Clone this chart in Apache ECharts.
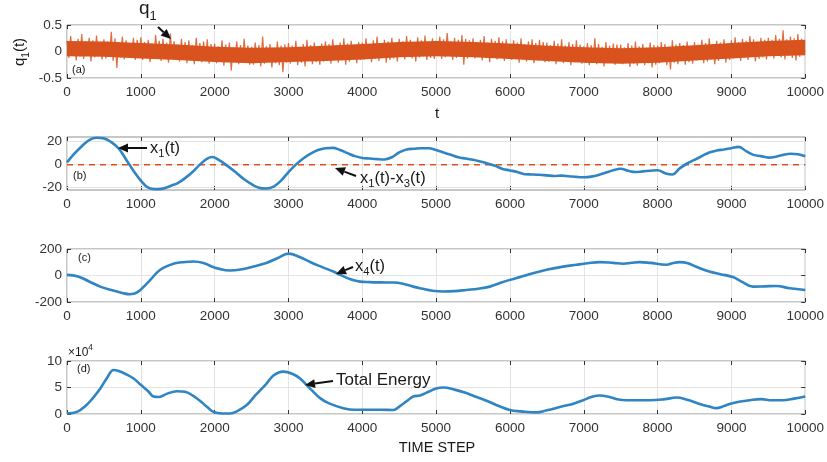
<!DOCTYPE html>
<html><head><meta charset="utf-8">
<script src="https://cdn.jsdelivr.net/npm/echarts@6/dist/echarts.min.js"></script>
<style>html,body{margin:0;padding:0;background:#fff}#c{width:827px;height:462px}</style>
</head><body><div id="c"></div>
<script>
const FONT = '"Liberation Sans", Arial, Helvetica, sans-serif';

// ---------- DATA ----------
const xTickLabels = [0,1000,2000,3000,4000,5000,6000,7000,8000,9000,10000];

// (a) q1(t): dense core band (every 500 steps)
const tCore = [0,500,1000,1500,2000,2500,3000,3500,4000,4500,5000,5500,6000,6500,7000,7500,8000,8500,9000,9500,10000];
const coreHi = [.20,.19,.16,.13,.09,.07,.08,.11,.14,.18,.20,.18,.15,.11,.08,.06,.08,.12,.16,.20,.22];
const coreLo = [-.09,-.10,-.13,-.16,-.20,-.22,-.20,-.18,-.15,-.11,-.09,-.11,-.14,-.18,-.21,-.23,-.21,-.17,-.13,-.09,-.07];
// (a) q1(t): local peaks (at t = i*50) and troughs (at t = i*50+25)
const qHigh = [
 .20,.29,.17,.24,.33,.19,.26,.21,.30,.18,
 .23,.19,.37,.25,.18,.28,.21,.16,.26,.22,
 .27,.18,.22,.15,.31,.20,.24,.17,.34,.19,
 .13,.24,.18,.21,.12,.26,.16,.19,.23,.14,
 .15,.10,.21,.13,.17,.08,.19,.12,.24,.11,
 .09,.17,.12,.28,.10,.14,.07,.19,.11,.13,
 .16,.11,.20,.09,.14,.22,.12,.17,.10,.15,
 .19,.14,.23,.12,.17,.25,.15,.20,.13,.18,
 .17,.25,.14,.21,.28,.16,.22,.19,.26,.15,
 .24,.19,.29,.22,.17,.27,.21,.30,.18,.25,
 .20,.28,.23,.35,.19,.26,.22,.31,.24,.21,
 .25,.18,.22,.29,.17,.24,.20,.27,.19,.23,
 .14,.21,.17,.25,.13,.19,.23,.16,.22,.18,
 .17,.12,.20,.15,.23,.11,.18,.14,.21,.13,
 .10,.16,.12,.25,.14,.09,.18,.11,.15,.13,
 .13,.08,.16,.11,.19,.10,.14,.07,.17,.12,
 .11,.18,.14,.09,.21,.13,.16,.12,.19,.10,
 .18,.13,.22,.16,.25,.14,.20,.17,.23,.15,
 .21,.27,.18,.24,.20,.29,.23,.19,.26,.22,
 .26,.22,.31,.24,.40,.23,.28,.25,.33,.24];
const qLow = [
 -.12,-.08,-.17,-.10,-.14,-.06,-.19,-.11,-.09,-.15,
 -.13,-.09,-.18,-.31,-.11,-.15,-.08,-.12,-.16,-.10,
 -.16,-.11,-.20,-.13,-.09,-.18,-.14,-.21,-.12,-.15,
 -.19,-.14,-.22,-.17,-.24,-.13,-.20,-.16,-.23,-.18,
 -.22,-.18,-.27,-.20,-.36,-.17,-.24,-.21,-.19,-.25,
 -.25,-.20,-.28,-.23,-.19,-.30,-.22,-.26,-.39,-.21,
 -.23,-.18,-.26,-.21,-.28,-.17,-.24,-.20,-.25,-.19,
 -.18,-.23,-.15,-.21,-.17,-.25,-.19,-.14,-.22,-.16,
 -.15,-.12,-.20,-.14,-.18,-.11,-.21,-.16,-.13,-.19,
 -.10,-.15,-.08,-.13,-.19,-.11,-.09,-.16,-.12,-.14,
 -.09,-.14,-.11,-.07,-.16,-.12,-.10,-.25,-.13,-.08,
 -.13,-.10,-.17,-.12,-.20,-.09,-.15,-.11,-.18,-.14,
 -.16,-.13,-.21,-.15,-.19,-.12,-.22,-.17,-.14,-.20,
 -.19,-.16,-.24,-.18,-.22,-.15,-.26,-.20,-.17,-.23,
 -.21,-.26,-.19,-.24,-.17,-.28,-.22,-.20,-.25,-.18,
 -.24,-.21,-.29,-.23,-.27,-.20,-.26,-.22,-.30,-.25,
 -.22,-.19,-.26,-.34,-.21,-.24,-.18,-.25,-.20,-.23,
 -.17,-.14,-.22,-.19,-.15,-.24,-.18,-.13,-.21,-.16,
 -.13,-.10,-.18,-.12,-.16,-.09,-.19,-.14,-.11,-.15,
 -.09,-.13,-.06,-.11,-.15,-.08,-.12,-.17,-.10,-.07];

// (b) x1(t)
const tB = [0,100,200,300,400,500,600,700,800,900,1000,1100,1200,1300,1400,1500,1600,1700,1800,1900,1970,2050,2150,2300,2400,2500,2600,2700,2800,2900,3000,3100,3200,3300,3400,3500,3600,3700,3800,3900,4000,4100,4200,4300,4400,4500,4600,4700,4800,4900,5000,5100,5200,5300,5400,5500,5600,5700,5800,5900,6000,6100,6200,6300,6400,6500,6600,6700,6800,6900,7000,7100,7200,7300,7400,7500,7600,7700,7800,7900,8000,8100,8200,8300,8400,8500,8600,8700,8800,8900,9000,9100,9200,9300,9400,9500,9600,9700,9800,9900,10000];
const x1Vals = [2,9.5,16,21.3,23.3,22.8,19.5,14,4.5,-5.3,-13.8,-20,-21.3,-20.8,-18.5,-16,-11.7,-6.4,0,5.3,6.7,4.3,0,-7.4,-12.7,-17,-20,-20.7,-19,-13.8,-6.4,0,5.3,9.5,12.7,14.3,14.6,12.7,10,7.4,5.8,5.3,4.8,4.5,6.4,10.6,13.2,13.8,14.3,14.3,12.7,10.6,8.5,6.4,5.3,4.2,2.7,1,-1,-3.7,-5,-6.4,-8.3,-8.5,-8.8,-9.3,-9.8,-9.5,-10,-10.6,-10.9,-10.4,-9,-6.9,-4.8,-3.5,-5.3,-6.4,-5.8,-5.3,-4.9,-7.4,-8.5,-3.2,1,4.2,7.4,10.6,12.2,13.2,14.3,15.4,11.7,8.5,7.4,6.1,6.9,8.5,9.5,9,7.3];
// (b) x1(t)-x3(t)
const tDiff = [0,1000,2000,3000,4000,5000,6000,7000,8000,9000,10000];
const diffVals = [0,-0.2,0,-0.1,0,0,-0.1,0,0,0,0];

// (c) x4(t)
const tC = [0,150,300,450,600,750,850,950,1100,1263,1450,1600,1714,1850,1950,2050,2200,2350,2525,2700,2850,3000,3150,3300,3450,3608,3700,3850,3969,4100,4250,4420,4550,4690,4800,4950,5097,5250,5413,5570,5728,5850,5999,6150,6300,6495,6700,6901,7050,7217,7400,7532,7650,7758,7900,8119,8200,8299,8400,8550,8700,8850,9021,9150,9292,9450,9608,9790,10000];
const x4Vals = [5,-7,-45,-84,-110,-132,-141,-127,-50,43,90,102,106,95,70,52,38,45,68,95,130,165,140,100,65,30,5,-30,-46,-50,-52,-53,-62,-84,-98,-115,-121,-118,-109,-100,-84,-60,-33,-10,15,43,65,81,92,101,95,89,96,101,95,81,92,101,94,60,30,10,-12,-50,-84,-82,-79,-96,-109];

// (d) Total Energy
const tD = [0,135,250,350,451,550,631,700,800,902,1000,1100,1173,1250,1350,1488,1600,1700,1800,1900,1984,2100,2210,2300,2435,2550,2700,2800,2931,3050,3157,3300,3428,3550,3743,3900,4100,4250,4420,4510,4600,4690,4781,4900,5000,5097,5250,5400,5550,5700,5850,5999,6150,6360,6500,6700,6850,6991,7100,7217,7350,7450,7578,7750,7900,8100,8254,8400,8550,8700,8795,8900,9000,9100,9246,9400,9550,9697,9850,10000];
const energyVals = [1000,4000,15000,30000,48000,70000,83000,81000,75000,67000,55000,43000,33000,32000,38000,43000,42000,35000,25000,13000,4000,1000,1000,5000,17000,35000,57000,73000,80000,76000,67000,47000,30000,20000,11000,8000,8000,8000,7500,15000,24000,33000,35000,42000,48000,50000,46000,40000,32000,24000,15000,7500,5000,3000,7000,14000,19000,26000,32000,35000,32000,28000,26000,26000,26000,28000,31000,27000,20000,14000,11000,15000,20000,23000,26000,28000,26000,26000,29000,33000];

// ---------- BUILD ----------
const tops = [25, 137, 249, 361];
const H = 53;
const yCfg = [
  {min:-0.5, max:0.5, interval:0.5},
  {min:-22, max:24, custom:[-20,0,20]},
  {min:-200, max:200, interval:200},
  {min:0, max:100000, interval:50000, fmt: v => String(v/10000)}
];
const grids = [], xAxes = [], yAxes = [];
tops.forEach((top, i) => {
  grids.push({left:67, right:21, top:top, height:H, show:true, borderColor:'#8f8f8f', borderWidth:1, backgroundColor:'#fff'});
  const common = {gridIndex:i, type:'value', min:xTickLabels[0], max:xTickLabels[xTickLabels.length-1], interval:1000};
  xAxes.push(Object.assign({}, common, {
    position:'bottom',
    axisLine:{show:false, onZero:false},
    axisTick:{inside:true, length:4, lineStyle:{color:'#333'}},
    axisLabel:{fontSize:13.5, fontFamily:FONT, color:'#333', margin:7, formatter: v => String(v)},
    splitLine:{show:true, lineStyle:{color:'#e3e3e3', width:1}}
  }));
  xAxes.push(Object.assign({}, common, {
    position:'top',
    axisLine:{show:false, onZero:false},
    axisTick:{inside:true, length:4, lineStyle:{color:'#333'}},
    axisLabel:{show:false}, splitLine:{show:false}
  }));
  const c = yCfg[i];
  const yl = {gridIndex:i, type:'value', min:c.min, max:c.max, position:'left',
    axisLine:{show:false, onZero:false},
    axisTick:{inside:true, length:4, lineStyle:{color:'#333'}},
    axisLabel:{fontSize:13.5, fontFamily:FONT, color:'#333', margin:5},
    splitLine:{show:true, lineStyle:{color:'#e3e3e3', width:1}}};
  const yr = {gridIndex:i, type:'value', min:c.min, max:c.max, position:'right',
    axisLine:{show:false, onZero:false},
    axisTick:{inside:true, length:4, lineStyle:{color:'#333'}},
    axisLabel:{show:false}, splitLine:{show:false}};
  if (c.interval) { yl.interval = c.interval; yr.interval = c.interval; }
  if (c.custom) {
    yl.axisLabel.customValues = c.custom; yl.axisTick.customValues = c.custom;
    yr.axisTick.customValues = c.custom;
    yl.splitLine.show = false;
  }
  if (c.fmt) yl.axisLabel.formatter = c.fmt;
  yAxes.push(yl, yr);
});

const qData = [];
for (let i = 0; i < qHigh.length; i++) {
  qData.push([i*50, qHigh[i]]);
  qData.push([i*50+25, qLow[i]]);
}
const zip = (t, v) => t.map((x, k) => [x, v[k]]);
const BLUE = '#2f84c4';
const ORANGE = '#d9531e';

const series = [
  // core band of q1, drawn as polygon between coreHi and coreLo via the axes' scales
  {type:'custom', xAxisIndex:0, yAxisIndex:0, data:tCore.map((t,k)=>[t, coreHi[k], coreLo[k]]),
   encode:{x:0, y:[1,2]}, animation:false, z:2, silent:true,
   renderItem:(params, api) => {
     if (params.dataIndex !== 0) return null;
     const pts = [];
     for (let k = 0; k < tCore.length; k++) pts.push(api.coord([tCore[k], coreHi[k]]));
     for (let k = tCore.length - 1; k >= 0; k--) pts.push(api.coord([tCore[k], coreLo[k]]));
     return {type:'polygon', shape:{points:pts}, style:{fill:ORANGE}};
   }},
  {type:'line', xAxisIndex:0, yAxisIndex:0, data:qData, showSymbol:false, animation:false,
   lineStyle:{color:ORANGE, width:1.2, opacity:0.85}, z:3},
  // horizontal grid lines for panel b
  {type:'line', xAxisIndex:2, yAxisIndex:2, data:[], showSymbol:false, animation:false, z:1,
   markLine:{silent:true, symbol:'none', z:1, label:{show:false}, lineStyle:{color:'#e3e3e3', width:1, type:'solid'},
     data:[{yAxis:-20},{yAxis:0},{yAxis:20}]}},
  {type:'line', xAxisIndex:2, yAxisIndex:2, data:zip(tDiff, diffVals), showSymbol:false, animation:false, z:4,
   lineStyle:{color:ORANGE, width:1.5, type:[6,5]}},
  {type:'line', xAxisIndex:2, yAxisIndex:2, data:zip(tB, x1Vals), smooth:0.4, showSymbol:false, animation:false, z:5,
   lineStyle:{color:BLUE, width:2.6}},
  {type:'line', xAxisIndex:4, yAxisIndex:4, data:zip(tC, x4Vals), smooth:0.4, showSymbol:false, animation:false,
   lineStyle:{color:BLUE, width:2.6}},
  {type:'line', xAxisIndex:6, yAxisIndex:6, data:zip(tD, energyVals), smooth:0.4, showSymbol:false, animation:false,
   lineStyle:{color:BLUE, width:2.6}}
];

// ---------- annotations ----------
const mctx = document.createElement('canvas').getContext('2d');
function tw(t, fs){ mctx.font = fs + 'px ' + FONT; return mctx.measureText(t).width; }
function rich(x, y, parts, fs, align) {
  const sizes = parts.map(p => p[1] === 'n' ? fs : fs*0.68);
  const widths = parts.map((p, k) => tw(p[0], sizes[k]));
  const total = widths.reduce((a,b)=>a+b, 0);
  let cx = align === 'center' ? x - total/2 : x;
  const els = [];
  parts.forEach((p, k) => {
    const dy = p[1] === 'sub' ? fs*0.38 : p[1] === 'sup' ? -fs*0.42 : 0;
    els.push({type:'text', x:cx, y:y+dy, silent:true, z:100,
      style:{text:p[0], fontSize:sizes[k], fontFamily:FONT, fill:'#1a1a1a', align:'left', verticalAlign:'middle'}});
    cx += widths[k];
  });
  return els;
}
function arrow(x1, y1, x2, y2) {
  const a = Math.atan2(y2-y1, x2-x1), L = 10, W = 4.5;
  const bx = x2 - L*Math.cos(a), by = y2 - L*Math.sin(a);
  const px = -Math.sin(a)*W, py = Math.cos(a)*W;
  return [
    {type:'line', silent:true, z:100, shape:{x1:x1, y1:y1, x2:bx, y2:by}, style:{stroke:'#111', lineWidth:2}},
    {type:'polygon', silent:true, z:100, shape:{points:[[x2,y2],[bx+px,by+py],[bx-px,by-py]]}, style:{fill:'#111'}}
  ];
}
let g = [];
g = g.concat(rich(139, 9, [['q','n'],['1','sub']], 19, 'left'));
g = g.concat(arrow(158, 27, 171, 39));
g.push({type:'group', x:20, y:52, rotation:Math.PI/2, children: rich(0, 0, [['q','n'],['1','sub'],['(t)','n']], 15, 'center')});
g = g.concat(rich(437, 114, [['t','n']], 15, 'center'));
g = g.concat(rich(437, 448, [['TIME STEP','n']], 14.5, 'center'));
g = g.concat(rich(72, 70, [['(a)','n']], 11, 'left'));
g = g.concat(rich(73, 176, [['(b)','n']], 11, 'left'));
g = g.concat(rich(78, 258, [['(c)','n']], 11, 'left'));
g = g.concat(rich(77, 369, [['(d)','n']], 11, 'left'));
g = g.concat(rich(68, 353, [['\u00d710','n'],['4','sup']], 12, 'left'));
// x1(t)
g = g.concat(arrow(147, 148, 118, 148));
g = g.concat(rich(150, 148, [['x','n'],['1','sub'],['(t)','n']], 16.5, 'left'));
// x1(t)-x3(t)
g = g.concat(arrow(356, 176, 335, 168));
g = g.concat(rich(360, 178, [['x','n'],['1','sub'],['(t)-x','n'],['3','sub'],['(t)','n']], 16.5, 'left'));
// x4(t)
g = g.concat(arrow(353, 267, 336, 274));
g = g.concat(rich(355, 266, [['x','n'],['4','sub'],['(t)','n']], 16.5, 'left'));
// Total Energy
g = g.concat(arrow(333, 381, 305, 385));
g = g.concat(rich(336, 380, [['Total Energy','n']], 17, 'left'));

const chart = echarts.init(document.getElementById('c'), null, {renderer:'canvas'});
chart.setOption({
  animation:false,
  backgroundColor:'#fff',
  grid:grids, xAxis:xAxes, yAxis:yAxes, series:series, graphic:g
});
</script></body></html>
